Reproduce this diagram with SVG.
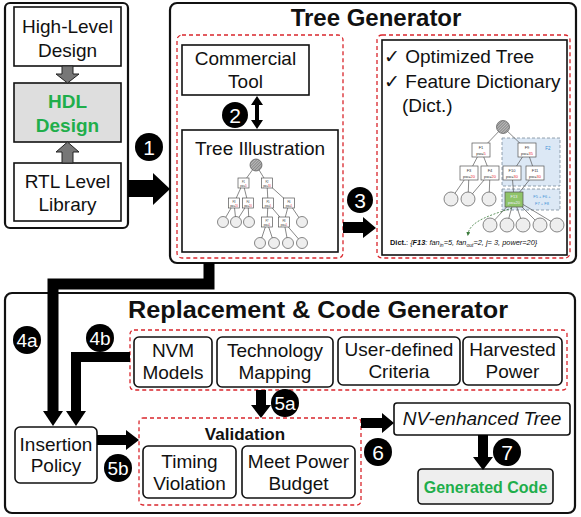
<svg xmlns="http://www.w3.org/2000/svg" width="581" height="517" viewBox="0 0 581 517">
<defs>
<style>
.box{fill:#fff;stroke:#111;stroke-width:1.6}
.rbox{fill:#fff;stroke:#111;stroke-width:1.6}
.outer{fill:#fff;stroke:#111;stroke-width:2.2}
.dash{fill:none;stroke:#d9262c;stroke-width:1.3;stroke-dasharray:4 3}
.t{font-family:"Liberation Sans",Arial,sans-serif;font-size:19px;fill:#111;text-anchor:middle}
.ts{font-family:"Liberation Sans",Arial,sans-serif;font-size:19px;fill:#111;text-anchor:start}
.title{font-family:"Liberation Sans",Arial,sans-serif;font-size:24px;font-weight:bold;fill:#111;text-anchor:middle}
.grn{font-family:"Liberation Sans",Arial,sans-serif;font-weight:bold;fill:#1fae4b;text-anchor:middle}
.num{font-family:"Liberation Sans",Arial,sans-serif;font-size:21px;fill:#fff;text-anchor:middle}
.blk{fill:#000}
.e{stroke:#555;stroke-width:0.7;fill:none}
.n{fill:#fff;stroke:#555;stroke-width:0.7}
.c{fill:#eee;stroke:#555;stroke-width:0.7}
.tt{font-family:"Liberation Sans",Arial,sans-serif;fill:#333;text-anchor:middle}
.red{fill:#e8262c}
.bl{font-family:"Liberation Sans",Arial,sans-serif;fill:#3b8fd6;text-anchor:middle}
</style>
<pattern id="hatch" width="2" height="2" patternUnits="userSpaceOnUse" patternTransform="rotate(45)">
<rect width="2" height="2" fill="#bbb"/><line x1="0" y1="0" x2="0" y2="2" stroke="#555" stroke-width="1"/>
</pattern>
<marker id="gm" viewBox="0 0 6 6" refX="3" refY="3" markerWidth="5" markerHeight="5" orient="auto">
<path d="M0,0 L6,3 L0,6 z" fill="#3a7a3a"/>
</marker>
</defs>

<!-- Left column -->
<g id="left-panel">
<rect class="outer" x="5" y="3" width="123" height="225" rx="5"/>
</g>
<g id="high-level-design">
<rect class="box" x="14" y="7" width="107" height="59"/>
<text class="t" x="67.5" y="33">High-Level</text>
<text class="t" x="67.5" y="57">Design</text>
</g>
<g id="hdl-design">
<rect x="14" y="83" width="107" height="59" fill="#dedede" stroke="#111" stroke-width="1.6"/>
<text class="grn" x="67.5" y="108" font-size="19">HDL</text>
<text class="grn" x="67.5" y="132" font-size="19">Design</text>
</g>
<g id="rtl-library">
<rect class="box" x="14" y="163" width="107" height="58"/>
<text class="t" x="67.5" y="188">RTL Level</text>
<text class="t" x="67.5" y="211">Library</text>
</g>

<!-- Tree generator -->
<g id="tree-generator">
<rect class="outer" x="170" y="3" width="406" height="260" rx="7"/>
<text class="title" x="376" y="26">Tree Generator</text>
<rect class="dash" x="177" y="35" width="166" height="223" rx="5"/>
<rect class="dash" x="377" y="35" width="193" height="223" rx="5"/>
</g>
<g id="commercial-tool">
<rect class="box" x="182" y="45" width="127" height="50"/>
<text class="t" x="245.5" y="65">Commercial</text>
<text class="t" x="245.5" y="88">Tool</text>
</g>
<g id="tree-illustration">
<rect class="box" x="182" y="130" width="156" height="122"/>
<text class="t" x="260" y="155">Tree Illustration</text>
<g>
<path class="e" d="M256,165 L243,183 M256,165 L267,183 M243,183 L234,203 M243,183 L248,203 M267,183 L268,203 M267,183 L289,203 M234,203 L223,222 M234,203 L236,222 M248,203 L236,222 M248,203 L249,222 M268,203 L267,222 M268,203 L284,222 M289,203 L284,222 M289,203 L302,222 M267,222 L260,243 M267,222 L274,243 M284,222 L288,243 M284,222 L302,243"/>
<circle cx="256" cy="165" r="6" fill="url(#hatch)" stroke="#555" stroke-width="0.7"/>
<g font-size="2.6">
<rect class="n" x="238" y="178" width="11" height="10"/><text class="tt" x="243.5" y="182.5">F1</text><text class="tt" x="243.5" y="186.5">pw=<tspan class="red">5</tspan></text>
<rect class="n" x="261.5" y="178" width="11" height="10"/><text class="tt" x="267" y="182.5">F2</text><text class="tt" x="267" y="186.5">pw=<tspan class="red">30</tspan></text>
<rect class="n" x="228.5" y="198" width="11" height="10"/><text class="tt" x="234" y="202.5">F3</text><text class="tt" x="234" y="206.5">pw=<tspan class="red">20</tspan></text>
<rect class="n" x="242.5" y="198" width="11" height="10"/><text class="tt" x="248" y="202.5">F4</text><text class="tt" x="248" y="206.5">pw=<tspan class="red">20</tspan></text>
<rect class="n" x="262.5" y="198" width="11" height="10"/><text class="tt" x="268" y="202.5">F5</text><text class="tt" x="268" y="206.5">pw=<tspan class="red">5</tspan></text>
<rect class="n" x="283.5" y="198" width="11" height="10"/><text class="tt" x="289" y="202.5">F6</text><text class="tt" x="289" y="206.5">pw=<tspan class="red">5</tspan></text>
<rect class="n" x="261.5" y="217" width="11" height="10"/><text class="tt" x="267" y="221.5">F7</text><text class="tt" x="267" y="225.5">pw=<tspan class="red">5</tspan></text>
<rect class="n" x="278.5" y="217" width="11" height="10"/><text class="tt" x="284" y="221.5">F8</text><text class="tt" x="284" y="225.5">pw=<tspan class="red">5</tspan></text>
</g>
<circle class="c" cx="223" cy="222" r="5.5"/><circle class="c" cx="236" cy="222" r="5.5"/><circle class="c" cx="249" cy="222" r="5.5"/><circle class="c" cx="302" cy="222" r="5.5"/>
<circle class="c" cx="260" cy="243" r="5.5"/><circle class="c" cx="274" cy="243" r="5.5"/><circle class="c" cx="288" cy="243" r="5.5"/><circle class="c" cx="302" cy="243" r="5.5"/>
</g>
</g>
<g id="optimized-tree">
<rect class="box" x="382" y="40" width="185" height="215"/>
<text class="ts" x="384" y="63">✓ Optimized Tree</text>
<text class="ts" x="384" y="88">✓ Feature Dictionary</text>
<text class="ts" x="402" y="112">(Dict.)</text>
<rect x="502" y="138" width="58" height="48" fill="#dce8f5" stroke="#7a8a9a" stroke-width="0.8" stroke-dasharray="3 2"/>
<rect x="502" y="189" width="58" height="21" fill="#dce8f5" stroke="#7a8a9a" stroke-width="0.8" stroke-dasharray="3 2"/>
<text class="bl" x="548" y="150" font-size="4.5">F2</text>
<text class="bl" x="542" y="198" font-size="4">F5 + F6 +</text>
<text class="bl" x="542" y="205" font-size="4">F7 + F8</text>
<path class="e" d="M503,127 L481,150 M503,127 L527,150 M481,150 L469,173 M481,150 L490,173 M527,150 L512,173 M527,150 L535,173 M469,173 L451,199 M469,173 L468,199 M490,173 L468,199 M490,173 L489,199 M512,173 L514,199 M535,173 L514,199 M514,199 L490,225 M514,199 L507,225 M514,199 L523,225 M514,199 L540,225 M514,199 L557,225"/>
<circle cx="503" cy="127" r="6.5" fill="url(#hatch)" stroke="#555" stroke-width="0.7"/>
<g font-size="4">
<rect class="n" x="472" y="143" width="18" height="14"/><text class="tt" x="481" y="149">F1</text><text class="tt" x="481" y="155">pw=<tspan class="red">5</tspan></text>
<rect class="n" x="518" y="143" width="18" height="14"/><text class="tt" x="527" y="149">F9</text><text class="tt" x="527" y="155">pw=<tspan class="red">35</tspan></text>
<rect class="n" x="460" y="166" width="18" height="14"/><text class="tt" x="469" y="172">F3</text><text class="tt" x="469" y="178">pw=<tspan class="red">20</tspan></text>
<rect class="n" x="481" y="166" width="18" height="14"/><text class="tt" x="490" y="172">F4</text><text class="tt" x="490" y="178">pw=<tspan class="red">20</tspan></text>
<rect class="n" x="503" y="166" width="18" height="14"/><text class="tt" x="512" y="172">F10</text><text class="tt" x="512" y="178">pw=<tspan class="red">30</tspan></text>
<rect class="n" x="526" y="166" width="18" height="14"/><text class="tt" x="535" y="172">F11</text><text class="tt" x="535" y="178">pw=<tspan class="red">30</tspan></text>
<rect x="505" y="192" width="18" height="15" fill="#8fc46a" stroke="#555" stroke-width="0.7"/><text class="tt" x="514" y="198" style="fill:#eef">F13</text><text class="tt" x="514" y="204" style="fill:#eef">pw=20</text>
</g>
<circle class="c" cx="451" cy="199" r="7"/><circle class="c" cx="468" cy="199" r="7"/><circle class="c" cx="489" cy="199" r="7"/>
<circle class="c" cx="490" cy="225" r="7"/><circle class="c" cx="507" cy="225" r="7"/><circle class="c" cx="523" cy="225" r="7"/><circle class="c" cx="540" cy="225" r="7"/><circle class="c" cx="557" cy="225" r="7"/>
<path d="M512,208 C495,214 470,220 468,234" fill="none" stroke="#3a7a3a" stroke-width="0.8" stroke-dasharray="2 1.5" marker-end="url(#gm)"/>
<text x="390" y="245" font-family="'Liberation Sans',Arial,sans-serif" font-size="7.4" fill="#111"><tspan font-weight="bold">Dict.</tspan>: <tspan font-style="italic">{<tspan font-weight="bold">F13</tspan>: fan<tspan font-size="5" dy="1.5">in</tspan><tspan dy="-1.5">=5, fan</tspan><tspan font-size="5" dy="1.5">out</tspan><tspan dy="-1.5">=2, j= 3, power=20}</tspan></tspan></text>
</g>

<!-- Replacement & Code Generator -->
<g id="replacement-generator">
<rect class="outer" x="5" y="293" width="570" height="220" rx="7"/>
<text class="title" x="318" y="318" textLength="380" lengthAdjust="spacingAndGlyphs">Replacement &amp; Code Generator</text>
<rect class="dash" x="130" y="330" width="437" height="60" rx="4"/>
<rect class="dash" x="139" y="418" width="222" height="87" rx="4"/>
</g>
<g id="nvm-models">
<rect class="rbox" x="134" y="337" width="78" height="50" rx="5"/>
<text class="t" x="173" y="357">NVM</text>
<text class="t" x="173" y="379">Models</text>
</g>
<g id="technology-mapping">
<rect class="rbox" x="217" y="337" width="116" height="50" rx="5"/>
<text class="t" x="275" y="357">Technology</text>
<text class="t" x="275" y="379">Mapping</text>
</g>
<g id="user-criteria">
<rect class="rbox" x="338" y="337" width="122" height="48" rx="5"/>
<text class="t" x="399" y="356">User-defined</text>
<text class="t" x="399" y="378">Criteria</text>
</g>
<g id="harvested-power">
<rect class="rbox" x="463" y="337" width="99" height="48" rx="5"/>
<text class="t" x="512.5" y="356">Harvested</text>
<text class="t" x="512.5" y="378">Power</text>
</g>
<g id="insertion-policy">
<rect class="rbox" x="15" y="427" width="82" height="56" rx="5"/>
<text class="t" x="56" y="451">Insertion</text>
<text class="t" x="56" y="472">Policy</text>
</g>
<g id="validation">
<text class="t" x="245" y="440" font-weight="bold" style="font-size:17px">Validation</text>
</g>
<g id="timing-violation">
<rect class="rbox" x="143" y="446" width="93" height="52" rx="5"/>
<text class="t" x="189.5" y="468">Timing</text>
<text class="t" x="189.5" y="490">Violation</text>
</g>
<g id="meet-power-budget">
<rect class="rbox" x="242" y="446" width="113" height="52" rx="5"/>
<text class="t" x="298.5" y="468">Meet Power</text>
<text class="t" x="298.5" y="490">Budget</text>
</g>
<g id="nv-enhanced-tree">
<rect class="rbox" x="394" y="403" width="176" height="32" rx="3"/>
<text class="t" x="482" y="425" font-style="italic">NV-enhanced Tree</text>
</g>
<g id="generated-code">
<rect x="418" y="469" width="135" height="35" rx="4" fill="#eee" stroke="#111" stroke-width="1.6"/>
<text class="grn" x="485.5" y="493" font-size="16">Generated Code</text>
</g>

<!-- Connectors -->
<g id="connectors">
<polygon points="62,66 73,66 73,74 79,74 67.5,83 56,74 62,74" fill="#777" stroke="#222" stroke-width="1"/>
<polygon points="62,163 73,163 73,152 79,152 67.5,142 56,152 62,152" fill="#777" stroke="#222" stroke-width="1"/>
<polygon class="blk" points="128,180 153,180 153,173 170,189 153,205 153,197 128,197"/>
<polygon class="blk" points="257,96 263,105 259,105 259,120 263,120 257,129 251,120 255,120 255,105 251,105"/>
<polygon class="blk" points="343,222 363,222 363,217 376,228 363,238 363,233 343,233"/>
<path d="M209,263 V284 H53 V412" fill="none" stroke="#000" stroke-width="11"/>
<polygon class="blk" points="43,411 63,411 53,426"/>
<path d="M130,357 H76 V412" fill="none" stroke="#000" stroke-width="10"/>
<polygon class="blk" points="66,411 86,411 76,426"/>
<polygon class="blk" points="97,435 126,435 126,430 139,440 126,450 126,445 97,445"/>
<polygon class="blk" points="256,390 266,390 266,405 271,405 261,418 251,405 256,405"/>
<polygon class="blk" points="361,418 382,418 382,413 394,423 382,433 382,428 361,428"/>
<polygon class="blk" points="478,435 488,435 488,457 493,457 483,470 473,457 478,457"/>
</g>

<g id="step-labels">
<circle class="blk" cx="149" cy="147" r="14"/><text class="num" x="149" y="154.5">1</text>
<circle class="blk" cx="235" cy="115" r="13"/><text class="num" x="235" y="122.5">2</text>
<circle class="blk" cx="360" cy="200" r="13"/><text class="num" x="360" y="207.5">3</text>
<circle class="blk" cx="27" cy="340" r="14"/><text class="num" x="27" y="347" style="font-size:19px">4a</text>
<circle class="blk" cx="100" cy="338" r="14"/><text class="num" x="100" y="345" style="font-size:19px">4b</text>
<circle class="blk" cx="285" cy="403" r="14"/><text class="num" x="285" y="410" style="font-size:19px">5a</text>
<circle class="blk" cx="118" cy="468" r="14"/><text class="num" x="118" y="475" style="font-size:19px">5b</text>
<circle class="blk" cx="378" cy="452" r="14"/><text class="num" x="378" y="459.5">6</text>
<circle class="blk" cx="507" cy="452" r="14"/><text class="num" x="507" y="459.5">7</text>
</g>
</svg>
